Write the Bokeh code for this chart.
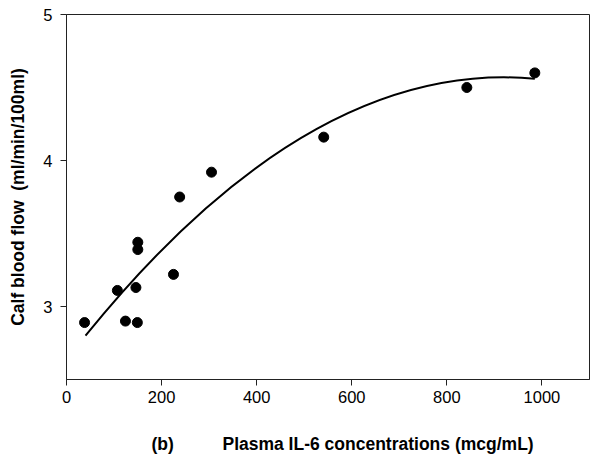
from bokeh.plotting import figure
from bokeh.models import Range1d, FixedTicker, ColumnDataSource
from bokeh.embed import file_html
from bokeh.resources import INLINE

# Data
il6 = [38, 107, 124, 149, 146, 150, 150, 225, 238, 305, 541, 842, 985]
flow = [2.89, 3.11, 2.90, 2.89, 3.13, 3.44, 3.39, 3.22, 3.75, 3.92, 4.16, 4.50, 4.60]

# Fitted curve (quadratic Bezier: start, control, end)
fit_start = [40, 2.80]
fit_ctrl = [512, 4.70]
fit_end = [985, 4.56]

x_ticks = [0, 200, 400, 600, 800, 1000]
y_ticks = [3, 4, 5]

FONT = "Liberation Sans"
NB = "\u00a0"

p = figure(width=591, height=456, output_backend="svg", toolbar_location=None,
           x_range=Range1d(0, 1100), y_range=Range1d(2.5, 5),
           min_border_left=66, min_border_right=2, min_border_top=14,
           min_border_bottom=76)

p.xgrid.visible = False
p.ygrid.visible = False
p.outline_line_color = "#222222"
p.outline_line_width = 1
p.background_fill_color = "white"
p.border_fill_color = "white"

for ax in (p.xaxis[0], p.yaxis[0]):
    ax.axis_line_color = "#222222"
    ax.major_tick_line_color = "#222222"
    ax.major_tick_out = 6
    ax.major_tick_in = 0
    ax.minor_tick_line_color = None
    ax.major_label_text_font = FONT
    ax.major_label_text_font_size = "16.5px"
    ax.major_label_text_color = "black"
    ax.axis_label_text_font = FONT
    ax.axis_label_text_font_style = "bold"
    ax.axis_label_text_color = "black"

p.xaxis.ticker = FixedTicker(ticks=x_ticks)
p.yaxis.ticker = FixedTicker(ticks=y_ticks)
p.xaxis.major_label_standoff = 5
p.yaxis.major_label_standoff = 8
p.yaxis.axis_label = "Calf blood flow" + NB * 2 + "(ml/min/100ml)"
p.yaxis.axis_label_text_font_size = "17.5px"
p.yaxis.axis_label_standoff = 12
p.xaxis.axis_label = NB * 6 + "(b)" + NB * 10 + "Plasma IL-6 concentrations (mcg/mL)"
p.xaxis.axis_label_text_font_size = "17.5px"
p.xaxis.axis_label_text_line_height = 1.0
p.xaxis.axis_label_standoff = 28

p.quadratic(x0=[fit_start[0]], y0=[fit_start[1]], x1=[fit_end[0]], y1=[fit_end[1]],
            cx=[fit_ctrl[0]], cy=[fit_ctrl[1]], line_color="black", line_width=2)

src = ColumnDataSource(dict(x=il6, y=flow))
p.scatter("x", "y", source=src, size=10, fill_color="black", line_color="black")

open("out.html", "w").write(file_html(p, INLINE))
